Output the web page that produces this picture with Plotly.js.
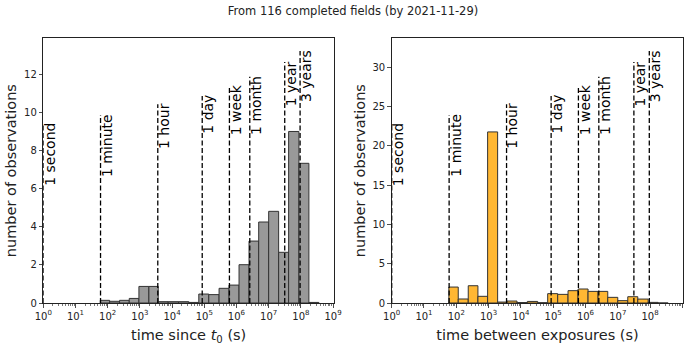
<!DOCTYPE html>
<html>
<head>
<meta charset="utf-8">
<script src="https://cdn.plot.ly/plotly-3.0.1.min.js"></script>
<style>html,body{margin:0;padding:0;background:#fff;}#chart{width:686px;height:349px;}</style>
</head>
<body>
<div id="chart"></div>
<script>
// log10 of bin edges (seconds)
const binEdgesLog = [1.77, 2.06, 2.37, 2.67, 2.97, 3.28, 3.57, 3.88, 4.20, 4.52, 4.83, 5.14, 5.46, 5.77, 6.08, 6.39, 6.69, 7.00, 7.31, 7.62, 7.94, 8.25, 8.56];
// number of observations per bin
const sinceT0 = [0.14, 0.09, 0.14, 0.24, 0.87, 0.87, 0.07, 0.07, 0.07, 0.03, 0.47, 0.44, 0.77, 0.94, 2.01, 3.25, 4.25, 4.81, 2.66, 9.0, 7.33, 0.03];
const betweenExp = [2.03, 0.51, 2.2, 0.85, 21.78, 0.12, 0.25, 0.06, 0.2, 0.04, 1.19, 1.1, 1.57, 1.78, 1.48, 1.48, 0.72, 0.3, 0.8, 0.5, 0.08, 0];
// reference time marks
const markLabels = ['1 second', '1 minute', '1 hour', '1 day', '1 week', '1 month', '1 year', '3 years'];
const markSeconds = [1, 60, 3600, 86400, 604800, 2592000, 31557600, 94672800];
const markHeights = [0.676, 0.710, 0.751, 0.782, 0.822, 0.855, 0.910, 0.952];
// tick labels
const decades = [0, 1, 2, 3, 4, 5, 6, 7, 8, 9];
const tickLabels = decades.map(d => '10<sup>' + d + '</sup>');

const centers = [], widths = [];
for (let i = 0; i < binEdgesLog.length - 1; i++) {
  centers.push((binEdgesLog[i] + binEdgesLog[i + 1]) / 2);
  widths.push(binEdgesLog[i + 1] - binEdgesLog[i]);
}
const minorVals = [];
for (let d = 0; d < 9; d++) for (let k = 2; k <= 9; k++) minorVals.push(d + Math.log10(k));

const FONT = 'DejaVu Sans, sans-serif';
const ink = '#222';

const traces = [
  {type: 'bar', x: centers, y: sinceT0, width: widths, xaxis: 'x', yaxis: 'y',
   marker: {color: '#999999', line: {color: '#333333', width: 1}}, hoverinfo: 'skip'},
  {type: 'bar', x: centers, y: betweenExp, width: widths, xaxis: 'x2', yaxis: 'y2',
   marker: {color: '#ffb733', line: {color: '#333333', width: 1}}, hoverinfo: 'skip'}
];

function xax(domain, title) {
  return {
    domain: domain, type: 'linear', range: [0, 9.03],
    tickmode: 'array', tickvals: decades, ticktext: tickLabels,
    ticks: 'outside', ticklen: 3.5, tickwidth: 0.8, tickcolor: ink,
    minor: {tickmode: 'array', tickvals: minorVals, ticks: 'outside', ticklen: 2, tickwidth: 0.6, tickcolor: ink, showgrid: false},
    showline: true, mirror: true, linecolor: ink, linewidth: 1,
    showgrid: false, zeroline: false,
    tickfont: {family: FONT, size: 10, color: ink},
    title: {text: title, font: {family: FONT, size: 14.5, color: ink}, standoff: 9},
    automargin: false, fixedrange: true
  };
}
function yax(range, dtick, anchor) {
  return {
    domain: [0.1318, 0.8903], range: range, dtick: dtick, anchor: anchor,
    ticks: 'outside', ticklen: 3.5, tickwidth: 0.8, tickcolor: ink,
    showline: true, mirror: true, linecolor: ink, linewidth: 1,
    showgrid: false, zeroline: false,
    tickfont: {family: FONT, size: 10, color: ink},
    title: {text: 'number of observations', font: {family: FONT, size: 14.5, color: ink}, standoff: 3},
    automargin: false, fixedrange: true
  };
}

const shapes = [], annotations = [];
[['x', 'y'], ['x2', 'y2']].forEach(([xr, yr]) => {
  markSeconds.forEach((s, i) => {
    const lx = Math.log10(s);
    shapes.push({type: 'line', xref: xr, yref: yr + ' domain', x0: lx, x1: lx, y0: 0, y1: markHeights[i],
      line: {color: '#000', width: 1.3, dash: '5px,2.5px'}});
    annotations.push({xref: xr, yref: yr + ' domain', x: lx, y: markHeights[i], text: markLabels[i],
      textangle: -90, xanchor: 'left', yanchor: 'top', showarrow: false, xshift: -3, yshift: 2,
      borderpad: 0, font: {family: FONT, size: 14, color: '#000'}});
  });
});

const layout = {
  width: 686, height: 349,
  margin: {l: 0, r: 0, t: 0, b: 0},
  paper_bgcolor: '#fff', plot_bgcolor: '#fff',
  showlegend: false, bargap: 0,
  title: {text: 'From 116 completed fields (by 2021-11-29)', x: 353 / 686, xanchor: 'center',
    y: 1 - 11 / 349, yanchor: 'middle', xref: 'paper', yref: 'container',
    font: {family: FONT, size: 11.5, color: ink}},
  xaxis: xax([0.0631, 0.4869], 'time since <i>t</i><sub>0</sub> (s)'),
  xaxis2: xax([0.571, 0.9961], 'time between exposures (s)'),
  yaxis: yax([0, 13.89], 2, 'x'),
  yaxis2: yax([0, 33.7], 5, 'x2'),
  shapes: shapes, annotations: annotations
};
layout.xaxis.anchor = 'y';
layout.xaxis2.anchor = 'y2';

Plotly.newPlot('chart', traces, layout, {displayModeBar: false, staticPlot: true});
</script>
</body>
</html>
